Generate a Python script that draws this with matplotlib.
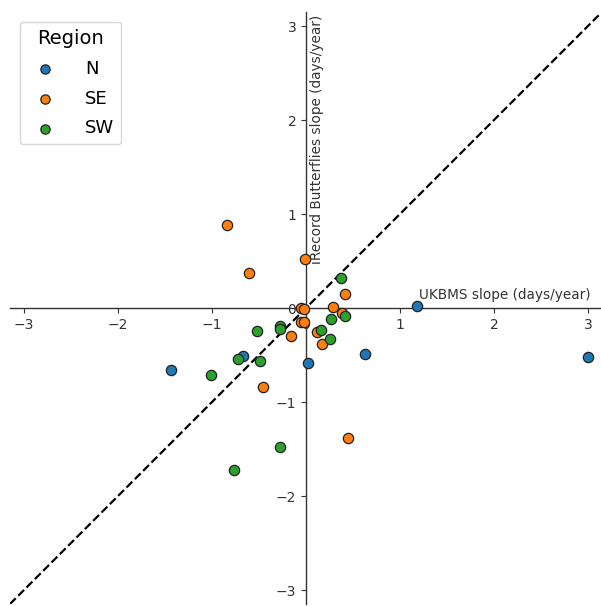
import matplotlib
matplotlib.use("Agg")
import matplotlib.pyplot as plt

regions = ["N", "SE", "SW"]
colors = ["#1f77b4", "#ff7f0e", "#2ca02c"]

n_x = [-1.44, -0.67, 0.02, 0.63, 1.18, 3.0]
n_y = [-0.66, -0.51, -0.59, -0.49, 0.02, -0.52]

se_x = [-0.84, -0.61, -0.01, 0.41, -0.05, -0.02, 0.29, 0.38, -0.05, -0.02, 0.12, 0.17, -0.16, -0.46, 0.45]
se_y = [0.88, 0.37, 0.52, 0.15, 0.0, -0.01, 0.01, -0.05, -0.15, -0.15, -0.26, -0.38, -0.30, -0.84, -1.38]

sw_x = [0.37, 0.42, 0.27, 0.16, 0.26, -0.28, -0.28, -0.52, -0.72, -0.49, -1.01, -0.28, -0.77]
sw_y = [0.32, -0.09, -0.12, -0.23, -0.33, -0.19, -0.22, -0.24, -0.54, -0.56, -0.71, -1.48, -1.72]

ticks = [-3, -2, -1, 0, 1, 2, 3]
xlabel = "UKBMS slope (days/year)"
ylabel = "iRecord Butterflies slope (days/year)"

fig = plt.figure(figsize=(6.01, 6.06), dpi=100)
ax = fig.add_axes([9.9 / 601, 1.9 / 606, 590.3 / 601, 592.2 / 606])

series = [(n_x, n_y), (se_x, se_y), (sw_x, sw_y)]
for (xs, ys), reg, col in zip(series, regions, colors):
    ax.scatter(xs, ys, s=55, c=col, edgecolors="#222222", linewidths=0.9, label=reg, zorder=3)

ax.axline((0, 0), slope=1, color="black", linestyle="--", linewidth=1.6, zorder=2)

ax.set_xlim(-3.15, 3.13)
ax.set_ylim(-3.15, 3.15)
ax.set_xticks(ticks)
ax.set_yticks(ticks)
ax.tick_params(labelsize=10, colors="#333333")
ax.tick_params(axis="both", color="#333333")

for s in ["top", "right"]:
    ax.spines[s].set_visible(False)
ax.spines["left"].set_position(("data", 0))
ax.spines["bottom"].set_position(("data", 0))
for s in ["left", "bottom"]:
    ax.spines[s].set_color("#333333")
    ax.spines[s].set_linewidth(1.0)

ax.text(3.03, 0.06, xlabel, ha="right", va="bottom", fontsize=9.8, color="#333333")
ax.text(0.04, 3.12, ylabel, ha="left", va="top", rotation=90, fontsize=9.8, color="#333333")

leg = ax.legend(title="Region", loc="upper left", fontsize=13, title_fontsize=14,
                handletextpad=1.2, labelspacing=0.65, borderaxespad=0.55, markerscale=0.9)

fig.savefig("out.png", dpi=100)
